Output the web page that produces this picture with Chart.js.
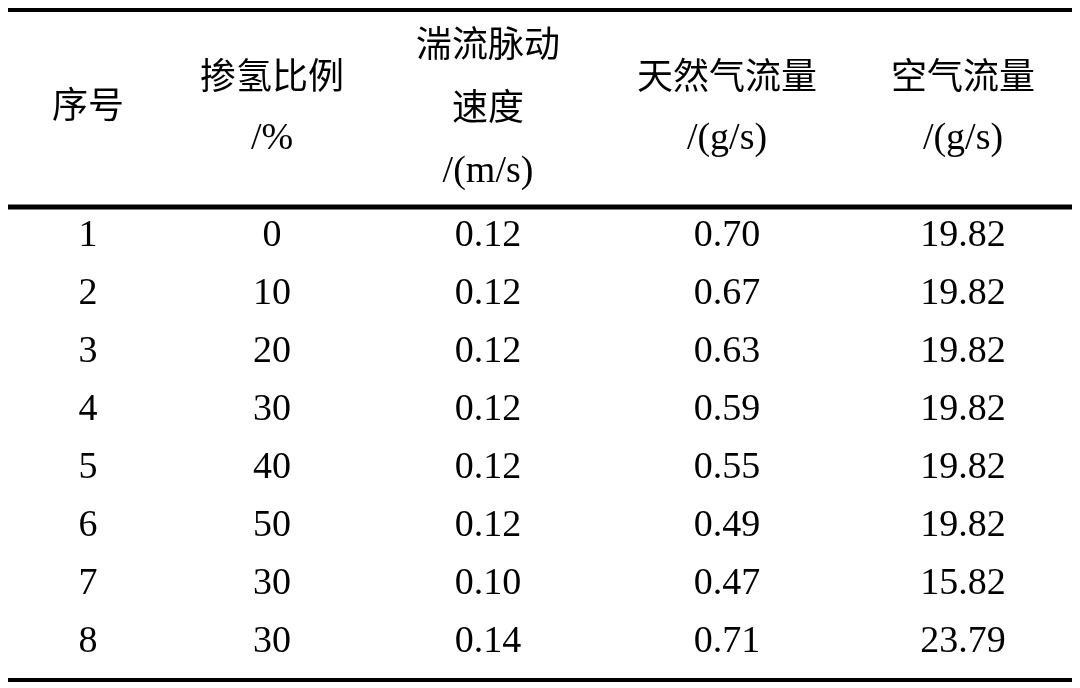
<!DOCTYPE html>
<html>
<head>
<meta charset="utf-8">
<script src="https://cdn.jsdelivr.net/npm/chart.js@4.4.0/dist/chart.umd.min.js"></script>
<style>
  html, body { margin: 0; padding: 0; background: #fff; }
  #wrap { width: 1080px; height: 688px; }
</style>
</head>
<body>
<div id="wrap"><canvas id="tbl"></canvas></div>
<script>
// header lines per column
const headers = [
  ["序号"],
  ["掺氢比例", "/%"],
  ["湍流脉动", "速度", "/(m/s)"],
  ["天然气流量", "/(g/s)"],
  ["空气流量", "/(g/s)"],
];
const seq = ["1", "2", "3", "4", "5", "6", "7", "8"];
const h2Ratio = ["0", "10", "20", "30", "40", "50", "30", "30"];
const turbSpeed = ["0.12", "0.12", "0.12", "0.12", "0.12", "0.12", "0.10", "0.14"];
const gasFlow = ["0.70", "0.67", "0.63", "0.59", "0.55", "0.49", "0.47", "0.71"];
const airFlow = ["19.82", "19.82", "19.82", "19.82", "19.82", "19.82", "15.82", "23.79"];

const columns = [seq, h2Ratio, turbSpeed, gasFlow, airFlow];

// layout (in canvas units, mapped through linear scales)
const COL_X = [88, 272, 488, 727, 963];
const ROW_Y0 = 236, ROW_STEP = 58;
const HEADER_Y = { 1: [104], 2: [75, 139], 3: [43, 106, 172] };
const RULES = [[10, 4], [207, 5], [680, 4]];

const CJK = '"Noto Sans CJK SC", "Noto Sans", sans-serif';
const SERIF = '"Liberation Serif", "DejaVu Serif", serif';

const tablePlugin = {
  id: "tablePlugin",
  afterDraw(chart) {
    const { ctx, scales: { x, y } } = chart;
    ctx.save();
    ctx.fillStyle = "#000";
    ctx.strokeStyle = "#000";
    RULES.forEach(([v, w]) => {
      ctx.lineWidth = w;
      ctx.beginPath();
      ctx.moveTo(x.getPixelForValue(8), y.getPixelForValue(v));
      ctx.lineTo(x.getPixelForValue(1072), y.getPixelForValue(v));
      ctx.stroke();
    });
    ctx.textAlign = "center";
    ctx.textBaseline = "middle";
    headers.forEach((lines, c) => {
      const ys = HEADER_Y[lines.length];
      lines.forEach((t, i) => {
        const cjk = /[\u4e00-\u9fff]/.test(t);
        ctx.font = cjk ? `400 36px ${CJK}` : `38px ${SERIF}`;
        ctx.fillText(t, x.getPixelForValue(COL_X[c]), y.getPixelForValue(ys[i]));
      });
    });
    ctx.font = `38px ${SERIF}`;
    columns.forEach((col, c) => {
      col.forEach((t, r) => {
        ctx.fillText(t, x.getPixelForValue(COL_X[c]), y.getPixelForValue(ROW_Y0 + r * ROW_STEP));
      });
    });
    ctx.restore();
  },
};

new Chart(document.getElementById("tbl"), {
  type: "scatter",
  data: { datasets: [{ data: [], pointRadius: 0 }] },
  options: {
    responsive: true,
    maintainAspectRatio: false,
    animation: false,
    layout: { padding: 0 },
    scales: {
      x: { type: "linear", min: 0, max: 1080, display: false },
      y: { type: "linear", min: 0, max: 688, reverse: true, display: false },
    },
    plugins: { legend: { display: false }, tooltip: { enabled: false } },
  },
  plugins: [tablePlugin],
});
</script>
</body>
</html>
